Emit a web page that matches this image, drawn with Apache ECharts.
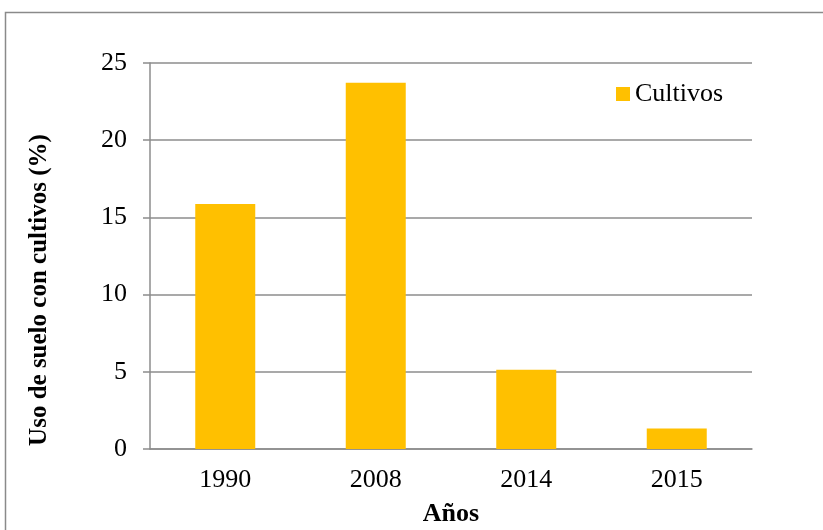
<!DOCTYPE html>
<html>
<head>
<meta charset="utf-8">
<script src="https://cdn.jsdelivr.net/npm/echarts@6/dist/echarts.min.js"></script>
<style>html,body{margin:0;padding:0;background:#fff;}#c{width:823px;height:530px;}</style>
</head>
<body>
<div id="c"></div>
<script>
var categories = ['1990', '2008', '2014', '2015'];
var cultivos = [15.87, 23.72, 5.14, 1.32];
var seriesName = 'Cultivos';
var xTitle = 'Años';
var yTitle = 'Uso de suelo con cultivos (%)';

var font = 'Liberation Serif, Times New Roman, serif';
var chart = echarts.init(document.getElementById('c'), null, {renderer: 'canvas'});
chart.setOption({
  animation: false,
  backgroundColor: '#fff',
  graphic: [{
    type: 'rect', silent: true,
    shape: {x: 5.5, y: 12.5, width: 900, height: 700},
    style: {fill: 'none', stroke: '#8a8a8a', lineWidth: 1.5}
  }, {
    type: 'text', silent: true,
    x: 40, y: 290, rotation: Math.PI / 2,
    style: {
      text: yTitle, fill: '#000',
      font: 'bold 25px ' + font,
      align: 'center', verticalAlign: 'middle'
    }
  }],
  grid: {left: 150, right: 71, top: 63, height: 386, containLabel: false, outerBoundsMode: 'none'},
  legend: {
    show: true, left: 611, top: 76,
    itemWidth: 14, itemHeight: 14, itemGap: 6, icon: 'rect',
    textStyle: {fontFamily: font, fontSize: 26, color: '#000'},
    data: [seriesName]
  },
  xAxis: {
    type: 'category', data: categories,
    name: xTitle, nameLocation: 'middle', nameGap: 52,
    nameTextStyle: {fontFamily: font, fontSize: 26, fontWeight: 'bold', color: '#000'},
    axisLine: {show: true, lineStyle: {color: '#8c8c8c', width: 1.5}},
    axisTick: {show: false},
    axisLabel: {fontFamily: font, fontSize: 26, color: '#000', margin: 18}
  },
  yAxis: {
    type: 'value', min: 0, max: 25, interval: 5,
    axisLine: {show: true, lineStyle: {color: '#8c8c8c', width: 1.5}},
    axisTick: {show: true, length: 7, lineStyle: {color: '#8c8c8c', width: 1.5}},
    splitLine: {show: true, lineStyle: {color: '#8c8c8c', width: 1.5}},
    axisLabel: {fontFamily: font, fontSize: 26, color: '#000', margin: 23}
  },
  series: [{
    name: seriesName, type: 'bar', data: cultivos,
    barWidth: 60,
    itemStyle: {color: '#FFC000'}
  }]
});
</script>
</body>
</html>
